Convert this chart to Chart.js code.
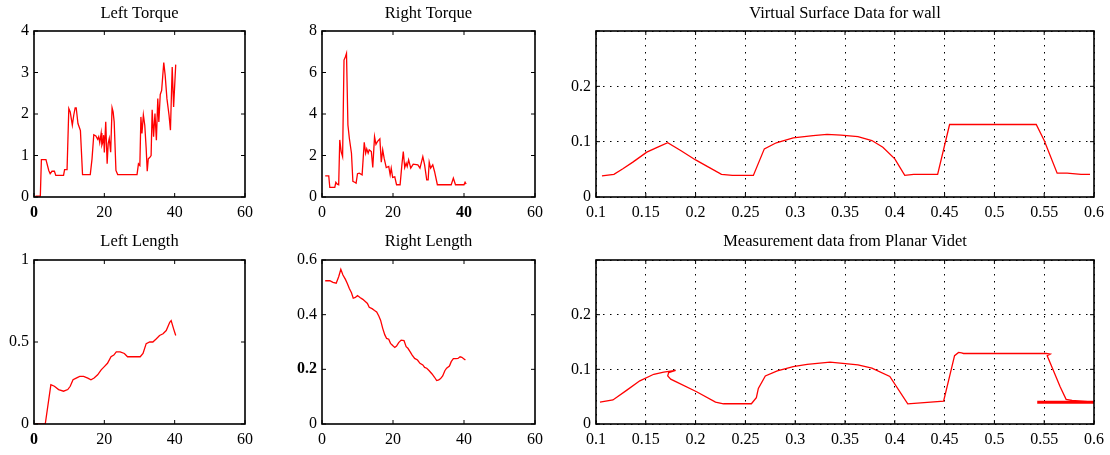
<!DOCTYPE html>
<html>
<head>
<meta charset="utf-8">
<script src="https://cdn.jsdelivr.net/npm/chart.js@4.4.1/dist/chart.umd.min.js"></script>
<style>
html, body { margin: 0; padding: 0; background: #fff; }
#wrap { position: relative; width: 1110px; height: 455px; overflow: hidden; }
canvas { position: absolute; }
</style>
</head>
<body>
<div id="wrap">
	<canvas id="cLT" width="262" height="228" style="left:0;top:0"></canvas>
	<canvas id="cRT" width="270" height="228" style="left:280px;top:0"></canvas>
	<canvas id="cVS" width="560" height="228" style="left:550px;top:0"></canvas>
	<canvas id="cLL" width="262" height="227" style="left:0;top:228px"></canvas>
	<canvas id="cRL" width="270" height="227" style="left:280px;top:228px"></canvas>
	<canvas id="cMD" width="560" height="227" style="left:550px;top:228px"></canvas>
</div>
<script>
// ---- Data ----
const ltX = [0.4, 1.8, 2.1, 3.4, 4.2, 4.6, 5.1, 5.8, 6.2, 8.4, 8.7, 9.4, 9.9, 10.3, 10.9, 11.3, 11.7, 12.0, 12.5, 13.0, 13.2, 13.8, 16.0, 16.5, 17.0, 17.6, 18.1, 18.4, 18.7, 19.1, 19.3, 19.6, 19.8, 20.0, 20.4, 20.8, 21.1, 21.4, 21.8, 22.2, 22.5, 22.8, 23.3, 23.8, 29.3, 29.7, 30.1, 30.4, 30.7, 31.1, 31.5, 31.9, 32.2, 32.5, 32.9, 33.3, 33.6, 34.0, 34.4, 34.8, 35.2, 35.5, 35.9, 36.3, 36.9, 37.3, 37.8, 38.4, 38.8, 39.3, 39.7, 40.3];
const ltY = [0.02, 0.02, 0.9, 0.9, 0.64, 0.56, 0.62, 0.62, 0.52, 0.52, 0.66, 0.66, 2.13, 2.05, 1.73, 1.97, 2.15, 2.15, 1.77, 1.65, 1.6, 0.54, 0.54, 0.92, 1.5, 1.47, 1.39, 1.45, 1.31, 1.54, 1.25, 1.33, 1.49, 1.07, 1.81, 0.8, 1.29, 1.41, 1.08, 2.15, 2.05, 1.81, 0.64, 0.54, 0.54, 0.8, 0.76, 1.93, 1.53, 1.98, 1.73, 1.17, 0.62, 0.92, 0.95, 1.0, 2.1, 1.45, 2.01, 1.37, 2.37, 1.81, 2.47, 2.57, 3.24, 2.93, 2.37, 1.97, 1.61, 3.13, 2.17, 3.19];

const rtX = [0.9, 1.9, 2.2, 3.6, 3.9, 4.3, 4.7, 5.0, 5.4, 5.8, 6.2, 6.6, 6.9, 7.3, 7.7, 8.3, 8.7, 9.2, 9.6, 10.0, 10.5, 11.3, 11.9, 12.3, 12.6, 13.0, 13.3, 13.9, 14.3, 14.8, 15.2, 15.6, 16.3, 16.7, 17.1, 17.5, 18.1, 18.8, 19.2, 19.5, 19.9, 20.5, 21.0, 22.0, 22.5, 22.9, 23.3, 23.7, 24.0, 24.4, 25.0, 25.7, 27.0, 27.6, 28.4, 28.9, 29.5, 29.9, 30.2, 30.6, 31.2, 31.7, 32.5, 36.4, 37.0, 37.6, 40.0, 40.3, 40.6];
const rtY = [1.02, 1.02, 0.46, 0.46, 0.71, 0.62, 0.59, 2.75, 2.19, 1.95, 6.6, 6.76, 6.92, 3.47, 2.83, 2.11, 0.75, 0.71, 0.67, 1.12, 1.15, 1.07, 2.64, 2.11, 2.32, 2.11, 2.27, 2.19, 1.42, 2.91, 2.54, 2.67, 2.8, 1.68, 2.27, 1.87, 1.42, 1.47, 1.07, 1.39, 0.94, 0.97, 0.59, 0.59, 1.55, 2.19, 1.42, 1.63, 1.47, 1.79, 1.39, 1.58, 1.55, 1.39, 1.95, 1.55, 0.83, 0.83, 1.68, 1.39, 1.55, 1.23, 0.59, 0.59, 0.91, 0.59, 0.59, 0.71, 0.62];

const llX = [0.4, 3.2, 4.8, 5.8, 7.0, 8.4, 9.6, 10.3, 11.1, 12.0, 13.0, 14.1, 15.3, 16.2, 17.1, 18.1, 19.1, 20.0, 20.9, 21.9, 22.7, 23.4, 24.5, 25.7, 26.6, 27.9, 29.1, 30.2, 31.0, 31.9, 32.9, 33.8, 34.8, 35.7, 36.7, 37.6, 38.6, 39.0, 39.7, 40.3];
const llY = [0, 0, 0.24, 0.23, 0.21, 0.2, 0.21, 0.23, 0.27, 0.28, 0.29, 0.29, 0.28, 0.27, 0.28, 0.3, 0.33, 0.35, 0.37, 0.41, 0.42, 0.44, 0.44, 0.43, 0.41, 0.41, 0.41, 0.41, 0.43, 0.49, 0.5, 0.5, 0.52, 0.54, 0.55, 0.57, 0.62, 0.63, 0.58, 0.54];

const rlX = [0.9, 2.2, 3.1, 4.0, 4.7, 5.3, 5.9, 6.6, 7.1, 7.7, 8.3, 8.8, 9.4, 10.0, 10.7, 11.5, 12.2, 12.8, 13.3, 14.1, 14.8, 15.4, 16.0, 16.5, 17.1, 17.7, 18.2, 18.8, 19.3, 19.9, 20.5, 21.0, 21.6, 22.3, 23.1, 23.7, 24.2, 24.8, 25.4, 26.1, 26.9, 27.6, 28.4, 28.9, 29.5, 30.2, 31.0, 31.7, 32.3, 32.9, 33.4, 34.0, 34.6, 35.1, 35.9, 36.4, 37.0, 37.7, 38.3, 38.9, 39.4, 40.0, 40.4];
const rlY = [0.524, 0.524, 0.518, 0.515, 0.539, 0.566, 0.545, 0.529, 0.515, 0.496, 0.48, 0.46, 0.463, 0.47, 0.463, 0.456, 0.448, 0.441, 0.427, 0.422, 0.415, 0.41, 0.395, 0.38, 0.35, 0.326, 0.313, 0.31, 0.295, 0.287, 0.28, 0.285, 0.298, 0.307, 0.305, 0.283, 0.277, 0.265, 0.252, 0.24, 0.234, 0.222, 0.216, 0.207, 0.204, 0.195, 0.183, 0.171, 0.159, 0.161, 0.166, 0.176, 0.195, 0.204, 0.212, 0.228, 0.239, 0.239, 0.24, 0.246, 0.244, 0.238, 0.234];

const vsX = [0.106, 0.118, 0.127, 0.137, 0.151, 0.162, 0.172, 0.185, 0.200, 0.213, 0.226, 0.237, 0.258, 0.269, 0.281, 0.298, 0.318, 0.332, 0.346, 0.363, 0.377, 0.388, 0.400, 0.410, 0.419, 0.443, 0.455, 0.542, 0.550, 0.563, 0.573, 0.587, 0.596];
const vsY = [0.038, 0.041, 0.051, 0.063, 0.081, 0.090, 0.098, 0.084, 0.067, 0.054, 0.041, 0.039, 0.039, 0.087, 0.098, 0.107, 0.111, 0.113, 0.112, 0.109, 0.102, 0.090, 0.069, 0.039, 0.041, 0.041, 0.131, 0.131, 0.102, 0.043, 0.043, 0.041, 0.041];

const mdX = [0.104, 0.117, 0.131, 0.144, 0.158, 0.168, 0.180, 0.173, 0.172, 0.175, 0.201, 0.220, 0.228, 0.256, 0.261, 0.263, 0.270, 0.282, 0.298, 0.312, 0.335, 0.363, 0.377, 0.395, 0.413, 0.449, 0.455, 0.460, 0.464, 0.467, 0.469, 0.552, 0.556, 0.553, 0.559, 0.566, 0.572, 0.578, 0.600];
const mdY = [0.040, 0.044, 0.062, 0.079, 0.091, 0.095, 0.098, 0.094, 0.088, 0.082, 0.059, 0.040, 0.037, 0.037, 0.048, 0.065, 0.088, 0.097, 0.105, 0.109, 0.113, 0.108, 0.102, 0.087, 0.037, 0.042, 0.087, 0.125, 0.131, 0.130, 0.129, 0.129, 0.128, 0.125, 0.099, 0.068, 0.045, 0.043, 0.040];
const mdTailX = [0.543, 0.600];
const mdTailY = [0.040, 0.040];

// ---- Helpers ----
const FONT = "'Liberation Serif', 'Times New Roman', serif";
const RED = "#ff0000";
const TICK_SIZE = 16;
const TITLE_SIZE = 16.5;

function fmt(v) {
	return String(Number(v.toFixed(3)));
}
function tickFont(ctx, bold) {
	const v = ctx.tick ? ctx.tick.value : null;
	const isBold = v != null && (bold || []).some((b) => Math.abs(b - v) < 1e-9);
	return { family: FONT, size: TICK_SIZE, weight: isBold ? "bold" : "normal" };
}

// frame + inward ticks on all four sides (matlab style box)
const boxPlugin = {
	id: "box",
	afterDatasetsDraw(chart) {
		const { ctx, chartArea: a, scales } = chart;
		const L = 4;
		ctx.save();
		ctx.strokeStyle = "#000";
		ctx.lineWidth = 1;
		ctx.beginPath();
		for (const t of scales.x.ticks) {
			const px = scales.x.getPixelForValue(t.value);
			ctx.moveTo(px, a.bottom);
			ctx.lineTo(px, a.bottom - L);
			ctx.moveTo(px, a.top);
			ctx.lineTo(px, a.top + L);
		}
		for (const t of scales.y.ticks) {
			const py = scales.y.getPixelForValue(t.value);
			ctx.moveTo(a.left, py);
			ctx.lineTo(a.left + L, py);
			ctx.moveTo(a.right, py);
			ctx.lineTo(a.right - L, py);
		}
		ctx.stroke();
		ctx.lineWidth = 1.6;
		ctx.strokeRect(a.left, a.top, a.right - a.left, a.bottom - a.top);
		ctx.restore();
	},
};

function panel(id, o) {
	const canvas = document.getElementById(id);
	const W = canvas.width;
	const H = canvas.height;
	const [aL, aR, aT, aB] = o.area;
	const padTop = 4;
	return new Chart(canvas, {
		type: "scatter",
		data: {
			datasets: o.series.map((s) => ({
				data: s.x.map((x, i) => ({ x, y: s.y[i] })),
				showLine: true,
				borderColor: RED,
				borderWidth: s.w || 1.3,
				pointRadius: 0,
				fill: false,
				tension: 0,
			})),
		},
		options: {
			responsive: false,
			animation: false,
			devicePixelRatio: 1,
			layout: { padding: { top: padTop, right: W - aR, bottom: 0, left: 0 } },
			plugins: {
				legend: { display: false },
				tooltip: { enabled: false },
				title: {
					display: true,
					text: o.title,
					fullSize: false,
					color: "#000",
					font: { family: FONT, size: TITLE_SIZE, weight: "normal", lineHeight: 1.2 },
					padding: { top: 0, bottom: aT - padTop - TITLE_SIZE * 1.2 },
				},
			},
			scales: {
				x: {
					type: "linear",
					min: o.xMin,
					max: o.xMax,
					ticks: {
						stepSize: o.xStep,
						autoSkip: false,
						maxRotation: 0,
						padding: 6,
						color: "#000",
						font: (ctx) => tickFont(ctx, o.xBold),
						callback: (v) => fmt(v),
					},
					grid: { display: !!o.grid, drawTicks: false, color: "#000", lineWidth: 1 },
					border: { display: false, dash: [1.5, 5.5] },
					afterFit: (s) => { s.height = H - aB; },
				},
				y: {
					type: "linear",
					min: o.yMin,
					max: o.yMax,
					ticks: {
						stepSize: o.yStep,
						autoSkip: false,
						padding: 5,
						color: "#000",
						font: (ctx) => tickFont(ctx, o.yBold),
						callback: (v) => (o.yHide != null && Math.abs(v - o.yHide) < 1e-9 ? "" : fmt(v)),
					},
					grid: { display: !!o.grid, drawTicks: false, color: "#000", lineWidth: 1 },
					border: { display: false, dash: [1.5, 5.5] },
					afterFit: (s) => { s.width = aL; },
				},
			},
		},
		plugins: [boxPlugin],
	});
}

// ---- Panels ----
panel("cLT", {
	title: "Left Torque", area: [34, 245, 31, 197],
	series: [{ x: ltX, y: ltY }],
	xMin: 0, xMax: 60, xStep: 20, xBold: [0],
	yMin: 0, yMax: 4, yStep: 1,
});
panel("cRT", {
	title: "Right Torque", area: [42, 255, 31, 197],
	series: [{ x: rtX, y: rtY }],
	xMin: 0, xMax: 60, xStep: 20, xBold: [40],
	yMin: 0, yMax: 8, yStep: 2,
});
panel("cVS", {
	title: "Virtual Surface Data for wall", area: [46, 544, 31, 197], grid: true,
	series: [{ x: vsX, y: vsY }],
	xMin: 0.1, xMax: 0.6, xStep: 0.05,
	yMin: 0, yMax: 0.3, yStep: 0.1, yHide: 0.3,
});
panel("cLL", {
	title: "Left Length", area: [34, 245, 32, 196],
	series: [{ x: llX, y: llY }],
	xMin: 0, xMax: 60, xStep: 20, xBold: [0],
	yMin: 0, yMax: 1, yStep: 0.5,
});
panel("cRL", {
	title: "Right Length", area: [42, 255, 32, 196],
	series: [{ x: rlX, y: rlY }],
	xMin: 0, xMax: 60, xStep: 20,
	yMin: 0, yMax: 0.6, yStep: 0.2, yBold: [0.2],
});
panel("cMD", {
	title: "Measurement data from Planar Videt", area: [46, 544, 32, 196], grid: true,
	series: [{ x: mdX, y: mdY }, { x: mdTailX, y: mdTailY, w: 3 }],
	xMin: 0.1, xMax: 0.6, xStep: 0.05,
	yMin: 0, yMax: 0.3, yStep: 0.1, yHide: 0.3,
});
</script>
</body>
</html>
